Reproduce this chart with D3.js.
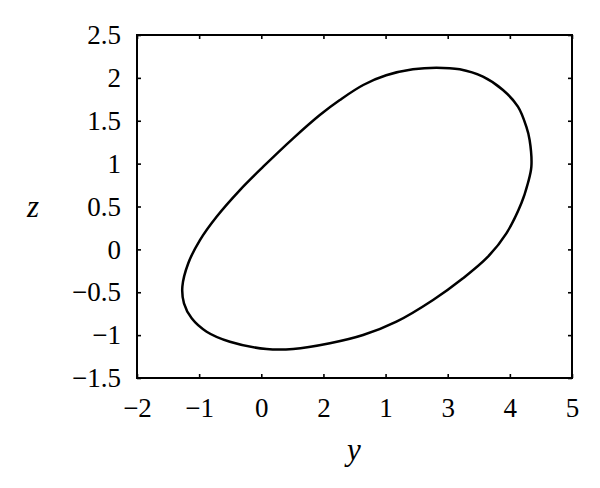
<!DOCTYPE html>
<html><head><meta charset="utf-8">
<script src="https://cdn.jsdelivr.net/npm/d3@7"></script>
<style>body{margin:0;background:#fff}</style>
</head><body>
<svg id="c" width="600" height="488"></svg>
<script>
const xTickValues = [-2,-1,0,1,2,3,4,5];
const xTickLabels = ["\u22122","\u22121","0","2","1","3","4","5"];
const yTickValues = [-1.5,-1,-0.5,0,0.5,1,1.5,2,2.5];
const yTickLabels = ["\u22121.5","\u22121","\u22120.5","0","0.5","1","1.5","2","2.5"];
const orbitY = [2.818,3.193,3.567,3.889,4.13,4.265,4.318,4.346,4.29,4.185,3.944,3.648,3.246,2.764,2.175,1.638,1.103,0.513,0.085,-0.505,-0.879,-1.12,-1.244,-1.27,-1.175,-0.987,-0.719,-0.344,0.031,0.513,0.942,1.264,1.64,2.01,2.44];
const orbitZ = [2.119,2.100,2.014,1.859,1.664,1.431,1.276,0.964,0.771,0.537,0.187,-0.085,-0.337,-0.590,-0.843,-0.999,-1.095,-1.162,-1.162,-1.077,-0.960,-0.804,-0.629,-0.435,-0.162,0.109,0.381,0.692,0.964,1.295,1.567,1.742,1.917,2.03,2.10];

const L=137,R=572,T=35,B=378;
const x=d3.scaleLinear().domain([-2,5]).range([L,R]);
const y=d3.scaleLinear().domain([-1.5,2.5]).range([B,T]);
const svg=d3.select("#c");
const FONT="'Liberation Serif','Times New Roman',serif";

const pts=orbitY.map((v,i)=>[v,orbitZ[i]]);
svg.append("path").attr("d",d3.line().x(d=>x(d[0])).y(d=>y(d[1])).curve(d3.curveCatmullRomClosed)(pts))
  .attr("fill","none").attr("stroke","#000").attr("stroke-width",2.5);

function styleAxis(g){
  g.select(".domain").remove();
  g.selectAll(".tick line").attr("stroke","#000").attr("stroke-width",1.6);
  g.selectAll("text").attr("font-family",FONT).attr("font-size",27).attr("fill","#000");
}
const fmtX=d=>xTickLabels[xTickValues.indexOf(d)];
const fmtY=d=>yTickLabels[yTickValues.indexOf(d)];
svg.append("g").attr("transform",`translate(0,${B})`)
  .call(d3.axisBottom(x).tickValues(xTickValues).tickFormat(fmtX).tickSizeInner(-4).tickSizeOuter(0).tickPadding(20))
  .call(styleAxis);
svg.append("g").attr("transform",`translate(${L},0)`)
  .call(d3.axisLeft(y).tickValues(yTickValues).tickFormat(fmtY).tickSizeInner(-4).tickSizeOuter(0).tickPadding(16))
  .call(styleAxis);
svg.append("g").attr("transform",`translate(0,${T})`)
  .call(d3.axisTop(x).tickValues(xTickValues).tickFormat("").tickSizeInner(-4).tickSizeOuter(0))
  .call(styleAxis);
svg.append("g").attr("transform",`translate(${R},0)`)
  .call(d3.axisRight(y).tickValues(yTickValues).tickFormat("").tickSizeInner(-4).tickSizeOuter(0))
  .call(styleAxis);

svg.append("rect").attr("x",L).attr("y",T).attr("width",R-L).attr("height",B-T)
  .attr("fill","none").attr("stroke","#000").attr("stroke-width",2);

svg.append("text").attr("x",354).attr("y",460).attr("text-anchor","middle")
  .attr("font-family",FONT).attr("font-style","italic").attr("font-size",31).text("y");
svg.append("text").attr("x",33).attr("y",217).attr("text-anchor","middle")
  .attr("font-family",FONT).attr("font-style","italic").attr("font-size",31).text("z");
</script>
</body></html>
